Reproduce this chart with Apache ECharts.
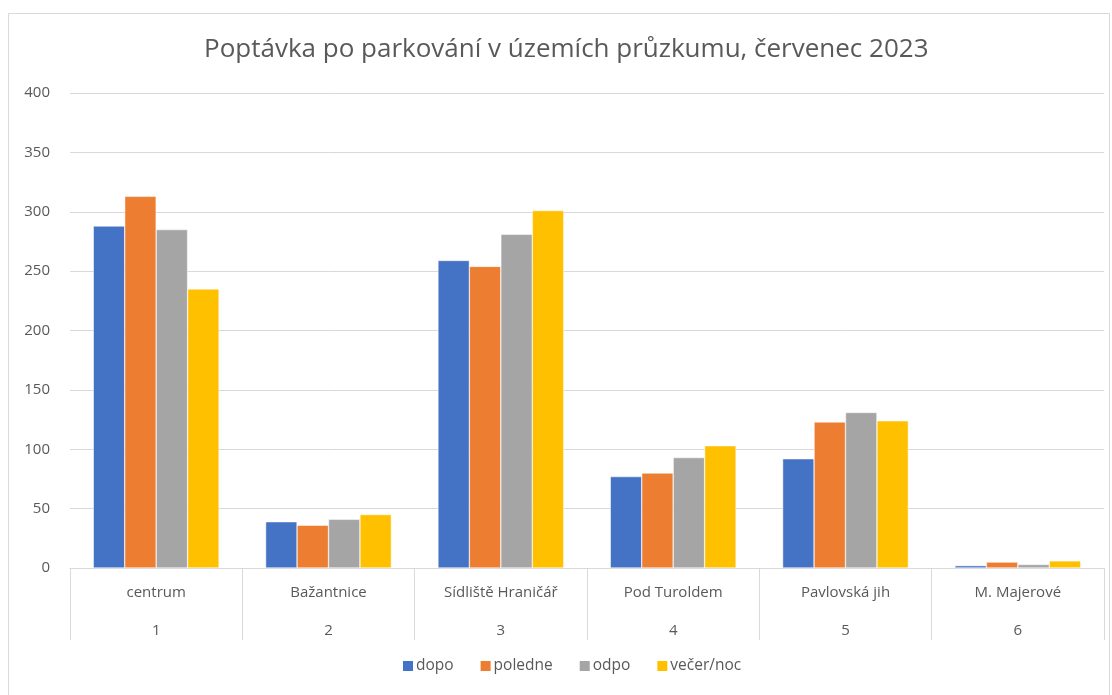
<!DOCTYPE html>
<html>
<head>
<meta charset="utf-8">
<script src="https://cdn.jsdelivr.net/npm/echarts@6/dist/echarts.min.js"></script>
<style>
  html, body { margin: 0; padding: 0; background: #fff; }
  #main { width: 1112px; height: 695px; }
</style>
</head>
<body>
<div id="main"></div>
<script>
const chartDom = document.getElementById("main");
const myChart = echarts.init(chartDom);

const areas = ["centrum", "Bažantnice", "Sídliště Hraničář", "Pod Turoldem", "Pavlovská jih", "M. Majerové"];
const areaNumbers = ["1", "2", "3", "4", "5", "6"];
const seriesNames = ["dopo", "poledne", "odpo", "večer/noc"];

const dopo = [288, 39, 259, 77, 92, 2];
const poledne = [313, 36, 254, 80, 123, 5];
const odpo = [285, 41, 281, 93, 131, 3];
const vecer = [235, 45, 301, 103, 124, 6];

const yTicks = { min: 0, max: 400, interval: 50 };

const colors = ["#4472C4", "#ED7D31", "#A5A5A5", "#FFC000"];
const font = "Open Sans, sans-serif";
const textColor = "#595959";

const option = {
    color: colors,
    textStyle: { fontFamily: font },
    title: {
        text: "Poptávka po parkování v územích průzkumu, červenec 2023",
        left: 199,
        top: 32,
        textStyle: {
            fontSize: 26,
            fontWeight: "normal",
            color: textColor,
            fontFamily: font,
        },
    },
    graphic: [
        {
            type: "rect",
            shape: { x: 8.5, y: 13.5, width: 1101, height: 690 },
            style: { fill: "none", stroke: "#d9d9d9", lineWidth: 1 },
            silent: true,
        },
    ],
    grid: { left: 70, right: 8, top: 93, bottom: 127 },
    legend: {
        data: seriesNames,
        bottom: 16,
        left: 396,
        itemWidth: 12,
        itemHeight: 12,
        itemGap: 25,
        icon: "rect",
        textStyle: { fontSize: 15.5, color: textColor, fontFamily: font, padding: [0, 0, 0, -3] },
    },
    xAxis: {
        type: "category",
        data: areas,
        axisLine: { lineStyle: { color: "#d9d9d9", width: 1 } },
        axisTick: {
            show: true,
            interval: 0,
            length: 72,
            lineStyle: { color: "#d9d9d9" },
        },
        axisLabel: {
            interval: 0,
            margin: 6,
            fontSize: 15,
            color: textColor,
            lineHeight: 38,
            formatter: function (value, idx) {
                return value + "\n" + areaNumbers[idx];
            },
        },
    },
    yAxis: {
        type: "value",
        min: yTicks.min,
        max: yTicks.max,
        interval: yTicks.interval,
        axisLine: { show: false },
        axisTick: { show: false },
        axisLabel: { fontSize: 15, color: textColor, margin: 20 },
        splitLine: { lineStyle: { color: "#d9d9d9", width: 1 } },
    },
    series: [dopo, poledne, odpo, vecer].map((values, i) => ({
        name: seriesNames[i],
        type: "bar",
        data: values,
        barGap: "0%",
        barCategoryGap: "27%",
        itemStyle: { borderColor: "#ffffff", borderWidth: 0.5 },
    })),
};

myChart.setOption(option);
</script>
</body>
</html>
